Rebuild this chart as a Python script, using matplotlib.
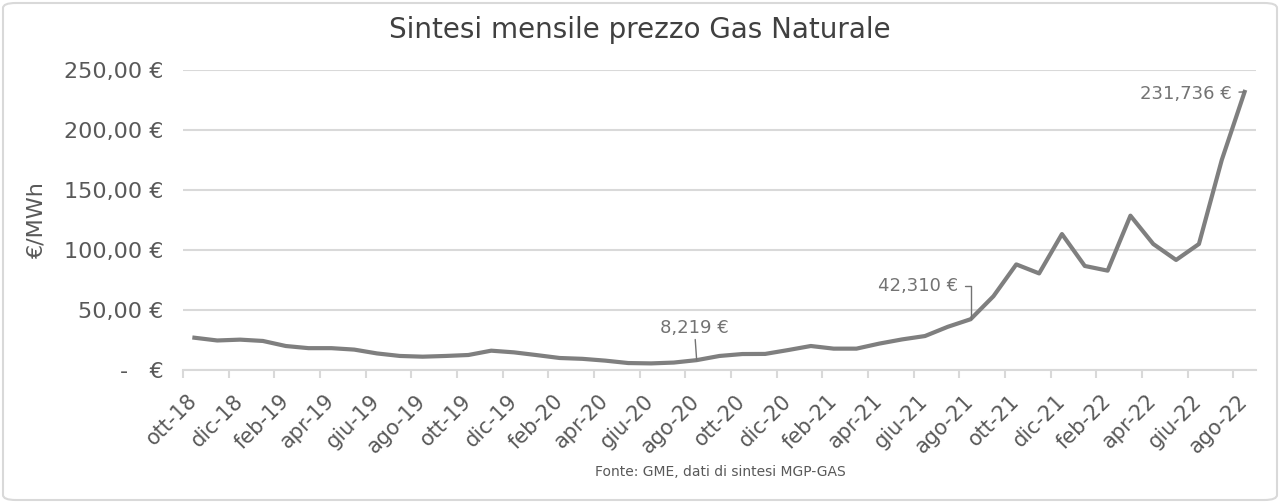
import matplotlib.pyplot as plt
import matplotlib.patches as mpatches
import numpy as np

# Monthly categories (Oct 2018 - Aug 2022)
mesi = ["gen", "feb", "mar", "apr", "mag", "giu", "lug", "ago", "set", "ott", "nov", "dic"]
months = []
m, y = 9, 18
for _ in range(47):
    months.append(f"{mesi[m]}-{y}")
    m += 1
    if m == 12:
        m, y = 0, y + 1

# Prices in EUR/MWh
prices = [
    26.9, 24.6, 25.3, 24.2, 20.0, 18.2, 18.2, 17.0, 13.8, 11.7, 11.1, 11.7,
    12.5, 16.1, 14.7, 12.4, 10.0, 9.3, 7.8, 5.8, 5.5, 6.2, 8.219,
    11.7, 13.3, 13.4, 16.6, 20.0, 17.8, 17.8, 22.0, 25.5, 28.3, 36.0, 42.310,
    61.5, 88.0, 80.5, 113.3, 86.7, 82.8, 128.6, 105.0, 91.7, 105.0, 175.0, 231.736,
]

y_ticks = [0, 50, 100, 150, 200, 250]
y_tick_labels = ["-   €", "50,00 €", "100,00 €", "150,00 €", "200,00 €", "250,00 €"]

# annotated points: index, label
notes = [(22, "8,219 €"), (34, "42,310 €"), (46, "231,736 €")]

plt.rcParams["font.family"] = ["DejaVu Sans"]
grey_text = "#595959"
line_col = "#7f7f7f"
grid_col = "#d9d9d9"

fig = plt.figure(figsize=(12.8, 5.03), dpi=100)
W, H = 1280, 503
ax = fig.add_axes([183 / W, (H - 370) / H, (1256 - 183) / W, 300 / H])

x = np.arange(len(prices))
ax.plot(x, prices, color=line_col, linewidth=3, solid_joinstyle="round", zorder=3)

ax.set_xlim(-0.5, len(prices) - 0.5)
ax.set_ylim(0, 250)
ax.set_yticks(y_ticks)
ax.set_yticklabels(y_tick_labels, fontsize=16, color=grey_text)
ax.tick_params(axis="y", length=0, pad=14)
ax.grid(axis="y", color=grid_col, linewidth=1.5, zorder=0)
ax.set_axisbelow(True)
for s in ["top", "right", "left"]:
    ax.spines[s].set_visible(False)
ax.spines["bottom"].set_color(grid_col)
ax.spines["bottom"].set_linewidth(1.5)

# major ticks at category boundaries, labels at category centres
ax.set_xticks(np.arange(-0.5, len(prices) - 1, 2))
ax.set_xticklabels([])
ax.tick_params(axis="x", which="major", length=6, color=grid_col, width=1.5)
ax.set_xticks(x[::2], minor=True)
ax.set_xticklabels(months[::2], minor=True, rotation=45, ha="right",
                   va="center", rotation_mode="anchor", fontsize=15, color=grey_text)
ax.tick_params(axis="x", which="minor", length=0, pad=20)

ax.set_ylabel("€/MWh", fontsize=16, color=grey_text)
ax.yaxis.set_label_coords(-(183 - 46) / (1256 - 183), 0.5)

# annotations with leader lines
ann_col = "#737373"
i, lab = notes[0]
ax.annotate(lab, xy=(i, prices[i]), xytext=(i - 0.1, prices[i] + 27),
            ha="center", va="center", fontsize=13, color=ann_col,
            arrowprops=dict(arrowstyle="-", color=ann_col, lw=1,
                            shrinkA=0, shrinkB=0))
i, lab = notes[1]
ax.annotate(lab, xy=(i, prices[i]), xytext=(i - 0.55, prices[i] + 28),
            ha="right", va="center", fontsize=13, color=ann_col,
            arrowprops=dict(arrowstyle="-", color=ann_col, lw=1,
                            connectionstyle="angle,angleA=0,angleB=90,rad=0",
                            shrinkA=3, shrinkB=0))
i, lab = notes[2]
ax.annotate(lab, xy=(i, prices[i]), xytext=(i - 0.55, prices[i] - 1.5),
            ha="right", va="center", fontsize=13, color=ann_col,
            arrowprops=dict(arrowstyle="-", color=ann_col, lw=1,
                            shrinkA=3, shrinkB=0))

fig.text(640 / W, 1 - 30 / H, "Sintesi mensile prezzo Gas Naturale",
         ha="center", va="center", fontsize=20, color="#404040")
fig.text(720 / W, 1 - 472 / H, "Fonte: GME, dati di sintesi MGP-GAS",
         ha="center", va="center", fontsize=10, color=grey_text)

# light frame around the chart
fig.patches.append(mpatches.FancyBboxPatch(
    (3 / W, 3 / H), 1 - 6 / W, 1 - 6 / H, boxstyle="round,pad=0,rounding_size=0.01",
    transform=fig.transFigure, fill=False, edgecolor="#d9d9d9", linewidth=1.5))

fig.savefig("out.png", dpi=100)
